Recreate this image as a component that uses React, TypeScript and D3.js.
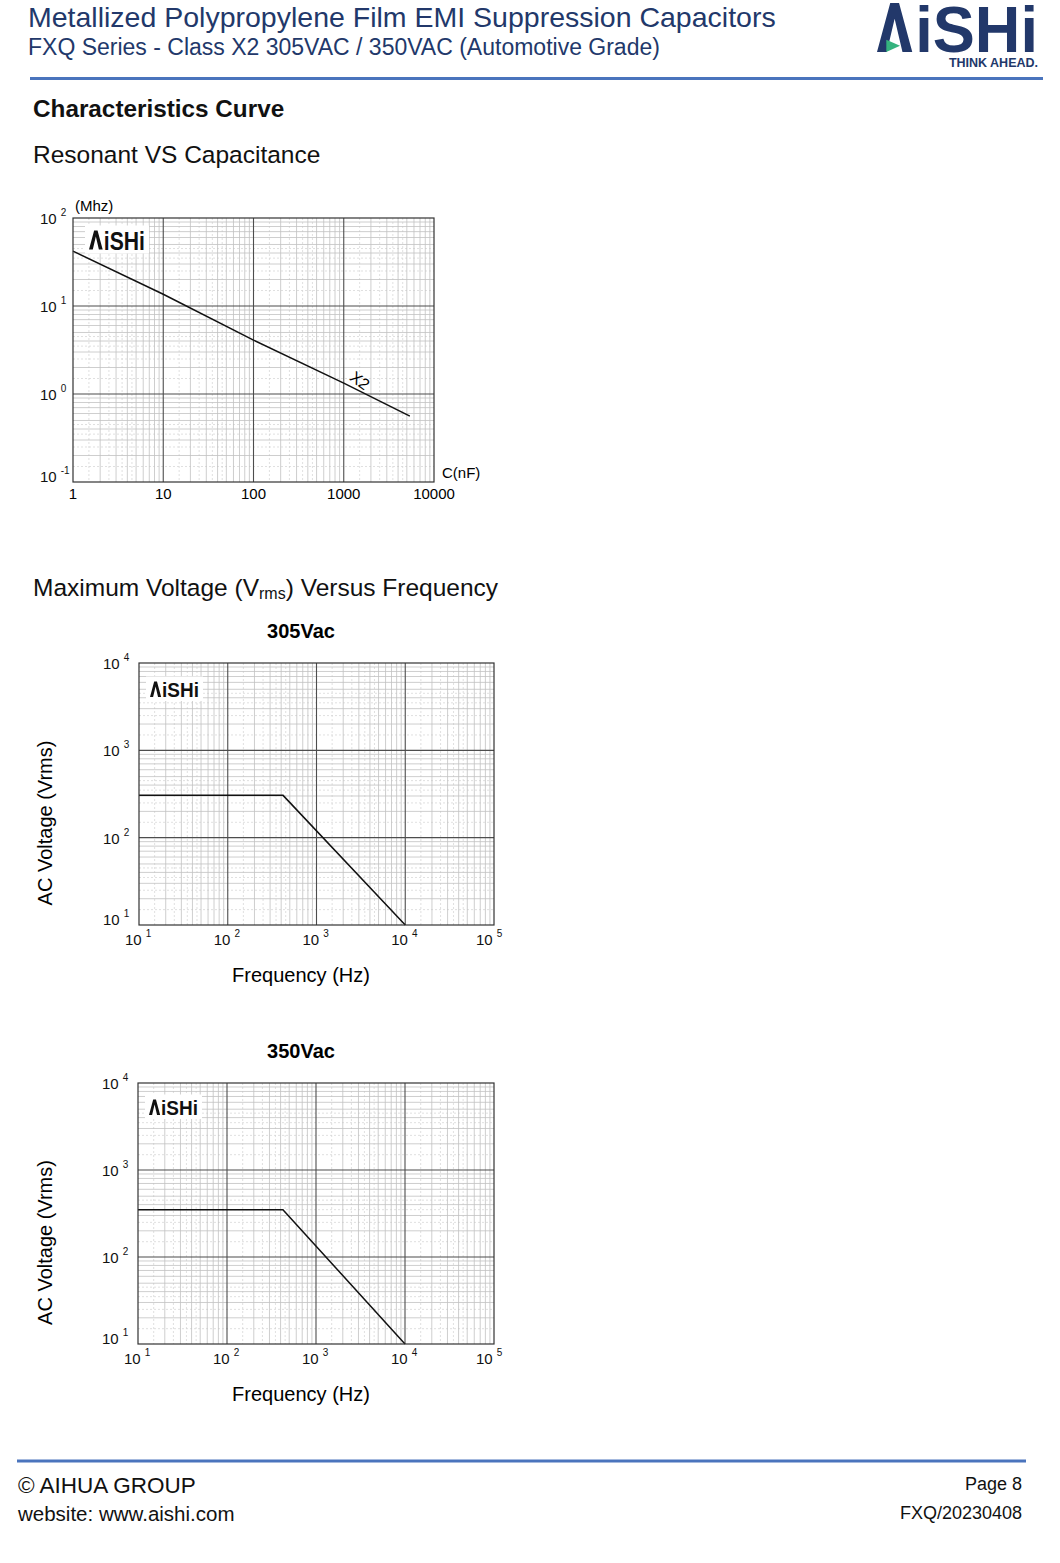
import React, { useEffect, useRef } from 'react';
import * as d3 from 'd3';

// Resonant frequency (MHz) vs capacitance (nF), X2 line
const capNF = [1, 10, 100, 1000, 5400];
const resonantMHz = [42, 13.6, 4.1, 1.33, 0.56];
const capTickLabels = ['1', '10', '100', '1000', '10000'];
const resonantExps = ['2', '1', '0', '-1'];

// Max voltage (Vrms) vs frequency (Hz)
const freq305 = [10, 420, 10000];
const volt305 = [305, 305, 10];
const freq350 = [10, 425, 10000];
const volt350 = [350, 350, 10];
const freqExps = ['1', '2', '3', '4', '5'];
const voltExps = ['4', '3', '2', '1'];

const NAVY = '#22386a';
const RULE = '#4a74bd';
const FONT = 'Arial, "Liberation Sans", sans-serif';

type Box = { left: number; right: number; top: number; bottom: number };

const decades = (d: number[]) =>
  d3.range(Math.round(Math.log10(d[0])), Math.round(Math.log10(d[1])));

const LogPanel = ({ box, xDomain, yDomain, xs, ys }: {
  box: Box; xDomain: number[]; yDomain: number[]; xs: number[]; ys: number[];
}) => {
  const ref = useRef<SVGGElement>(null);

  useEffect(() => {
    const g = d3.select(ref.current);
    g.selectAll('*').remove();
    const { left, right, top, bottom } = box;
    const x = d3.scaleLog().domain(xDomain).range([left, right]);
    const y = d3.scaleLog().domain(yDomain).range([bottom, top]);

    const subs = (d: number[], ms: number[]) =>
      decades(d).flatMap(e => ms.map(m => m * Math.pow(10, e)));
    const majors = (d: number[]) => decades(d).slice(1).map(e => Math.pow(10, e));

    // dotted sub-grid
    const dotted = [1.5, 2.5, 3.5, 4.5];
    g.append('g').selectAll('line').data(subs(xDomain, dotted)).join('line')
      .attr('x1', d => x(d)).attr('x2', d => x(d)).attr('y1', top).attr('y2', bottom)
      .attr('stroke', '#d2d2d2').attr('stroke-width', 0.7).attr('stroke-dasharray', '2,2');
    g.append('g').selectAll('line').data(subs(yDomain, dotted)).join('line')
      .attr('y1', d => y(d)).attr('y2', d => y(d)).attr('x1', left).attr('x2', right)
      .attr('stroke', '#d2d2d2').attr('stroke-width', 0.7).attr('stroke-dasharray', '2,2');

    // minor grid
    const ms = [2, 3, 4, 5, 6, 7, 8, 9];
    g.append('g').selectAll('line').data(subs(xDomain, ms)).join('line')
      .attr('x1', d => x(d)).attr('x2', d => x(d)).attr('y1', top).attr('y2', bottom)
      .attr('stroke', '#c2c2c2').attr('stroke-width', 0.8);
    g.append('g').selectAll('line').data(subs(yDomain, ms)).join('line')
      .attr('y1', d => y(d)).attr('y2', d => y(d)).attr('x1', left).attr('x2', right)
      .attr('stroke', '#c2c2c2').attr('stroke-width', 0.8);

    // major grid
    g.append('g').selectAll('line').data(majors(xDomain)).join('line')
      .attr('x1', d => x(d)).attr('x2', d => x(d)).attr('y1', top).attr('y2', bottom)
      .attr('stroke', '#4d4d4d').attr('stroke-width', 1.1);
    g.append('g').selectAll('line').data(majors(yDomain)).join('line')
      .attr('y1', d => y(d)).attr('y2', d => y(d)).attr('x1', left).attr('x2', right)
      .attr('stroke', '#4d4d4d').attr('stroke-width', 1.1);

    // curve
    const line = d3.line<number>()
      .x(d => x(xs[d]))
      .y(d => y(ys[d]));
    g.append('path')
      .datum(d3.range(xs.length))
      .attr('fill', 'none')
      .attr('stroke', '#111')
      .attr('stroke-width', 1.5)
      .attr('d', line);

    // frame
    g.append('rect')
      .attr('x', left).attr('y', top)
      .attr('width', right - left).attr('height', bottom - top)
      .attr('fill', 'none').attr('stroke', '#333').attr('stroke-width', 1.2);
  }, [box, xDomain, yDomain, xs, ys]);

  return <g ref={ref} />;
};

const Logo = ({ x, base, h, w, fill, green, bg }: {
  x: number; base: number; h: number; w: number; fill: string; green?: boolean; bg?: boolean;
}) => {
  const lw = 0.72 * h;
  const s = 0.2 * h;
  const pts = [
    [x, base], [x + lw / 2 - 0.09 * h, base - h], [x + lw / 2 + 0.09 * h, base - h],
    [x + lw, base], [x + lw - s, base], [x + lw / 2, base - h + 0.32 * h], [x + s, base],
  ].map(p => p.join(',')).join(' ');
  const tri = [
    [x + 0.19 * h, base - 0.25 * h], [x + 0.47 * h, base - 0.13 * h], [x + 0.19 * h, base],
  ].map(p => p.join(',')).join(' ');
  return (
    <g>
      {bg && <rect x={x - 4} y={base - h - 5} width={w + 8} height={h + 9} fill="#fff" />}
      <polygon points={pts} fill={fill} />
      {green && <polygon points={tri} fill="#35b37e" />}
      <text x={x + lw + 0.06 * h} y={base} fill={fill} fontFamily={FONT} fontWeight="bold"
        fontSize={h * 1.33} textLength={w - lw - 0.06 * h} lengthAdjust="spacingAndGlyphs">iSHi</text>
    </g>
  );
};

const PowerLabel = ({ x, y, exp, size = 15 }: { x: number; y: number; exp: string; size?: number }) => (
  <text x={x} y={y} fontFamily={FONT} fontSize={size} fill="#111">
    10<tspan dx={4} dy={-8} fontSize={10}>{exp}</tspan>
  </text>
);

const VoltagePanel = ({ box, freqs, volts, title, titleY, logoBase }: {
  box: Box; freqs: number[]; volts: number[]; title: string; titleY: number; logoBase: number;
}) => {
  const xDomain = [10, 100000];
  const yDomain = [10, 10000];
  const x = d3.scaleLog().domain(xDomain).range([box.left, box.right]);
  const y = d3.scaleLog().domain(yDomain).range([box.bottom, box.top]);
  const midY = (box.top + box.bottom) / 2;
  return (
    <g>
      <text x={301} y={titleY} textAnchor="middle" fontFamily={FONT} fontWeight="bold" fontSize={20}>{title}</text>
      <LogPanel box={box} xDomain={xDomain} yDomain={yDomain} xs={freqs} ys={volts} />
      <Logo x={box.left + 11} base={logoBase} h={15.5} w={49} fill="#111" bg />
      {voltExps.map((e, i) => {
        const v = Math.pow(10, +e);
        const last = i === voltExps.length - 1;
        return <PowerLabel key={e} x={box.left - 36} y={y(v) + (last ? 0 : 6)} exp={e} />;
      })}
      {freqExps.map((e, i) => (
        <PowerLabel key={e} x={x(Math.pow(10, +e)) - 14 - (i === freqExps.length - 1 ? 4 : 0)}
          y={box.bottom + 20} exp={e} />
      ))}
      <text x={301} y={box.bottom + 57} textAnchor="middle" fontFamily={FONT} fontSize={20}>Frequency (Hz)</text>
      <text transform={`translate(52,${midY + 29}) rotate(-90)`} textAnchor="middle" fontFamily={FONT} fontSize={20}>AC Voltage (Vrms)</text>
    </g>
  );
};

const App = () => {
  const resBox: Box = { left: 73, right: 434, top: 218, bottom: 482 };
  const resX = d3.scaleLog().domain([1, 10000]).range([resBox.left, resBox.right]);
  const resY = d3.scaleLog().domain([0.1, 100]).range([resBox.bottom, resBox.top]);

  return (
    <div style={{ position: 'absolute', left: 0, top: 0 }}>
      <svg width={1060} height={1563} style={{ display: 'block', background: '#fff' }}>
        {/* header */}
        <text x={28} y={27} fontFamily={FONT} fontSize={28.5} fill={NAVY}>
          Metallized Polypropylene Film EMI Suppression Capacitors
        </text>
        <text x={28} y={55} fontFamily={FONT} fontSize={23} fill={NAVY}>
          FXQ Series - Class X2 305VAC / 350VAC (Automotive Grade)
        </text>
        <Logo x={877} base={52} h={49} w={161} fill={NAVY} green />
        <text x={1038} y={67} textAnchor="end" fontFamily={FONT} fontWeight="bold" fontSize={12.5} fill={NAVY}>THINK AHEAD.</text>
        <line x1={30} x2={1043} y1={78.5} y2={78.5} stroke={RULE} strokeWidth={3} />

        {/* resonant chart */}
        <text x={33} y={117} fontFamily={FONT} fontWeight="bold" fontSize={24.3} fill="#111">Characteristics Curve</text>
        <text x={33} y={163} fontFamily={FONT} fontSize={24.5} fill="#111">Resonant VS Capacitance</text>
        <LogPanel box={resBox} xDomain={[1, 10000]} yDomain={[0.1, 100]} xs={capNF} ys={resonantMHz} />
        <Logo x={89} base={249.5} h={19} w={56} fill="#111" bg />
        {resonantExps.map((e, i) => {
          const v = Math.pow(10, +e);
          const last = i === resonantExps.length - 1;
          return <PowerLabel key={e} x={resBox.left - 33} y={resY(v) + (last ? 0 : 6)} exp={e} />;
        })}
        {capTickLabels.map(t => (
          <text key={t} x={resX(+t)} y={499} textAnchor="middle" fontFamily={FONT} fontSize={15}>{t}</text>
        ))}
        <text x={442} y={478} fontFamily={FONT} fontSize={15}>C(nF)</text>
        <text x={75} y={211} fontFamily={FONT} fontSize={15}>(Mhz)</text>
        <text transform={`translate(${resX(1510)},${resY(1.42)}) rotate(37)`} textAnchor="middle" dy="0.35em"
          fontFamily={FONT} fontSize={16}>X2</text>

        {/* voltage charts */}
        <text x={33} y={596} fontFamily={FONT} fontSize={24.5} fill="#111">
          Maximum Voltage (V<tspan fontSize={16} dy={3}>rms</tspan><tspan dy={-3}>) Versus Frequency</tspan>
        </text>
        <VoltagePanel box={{ left: 139, right: 494, top: 663, bottom: 925 }} freqs={freq305} volts={volt305}
          title="305Vac" titleY={638} logoBase={697} />
        <VoltagePanel box={{ left: 138, right: 494, top: 1083, bottom: 1344 }} freqs={freq350} volts={volt350}
          title="350Vac" titleY={1058} logoBase={1115} />

        {/* footer */}
        <line x1={17} x2={1026} y1={1461} y2={1461} stroke={RULE} strokeWidth={3} />
        <text x={18} y={1493} fontFamily={FONT} fontSize={22.5} fill="#111">© AIHUA GROUP</text>
        <text x={18} y={1521} fontFamily={FONT} fontSize={20.5} fill="#111">website: www.aishi.com</text>
        <text x={1022} y={1490} textAnchor="end" fontFamily={FONT} fontSize={18} fill="#111">Page 8</text>
        <text x={1022} y={1519} textAnchor="end" fontFamily={FONT} fontSize={18} fill="#111">FXQ/20230408</text>
      </svg>
    </div>
  );
};

export default App;
